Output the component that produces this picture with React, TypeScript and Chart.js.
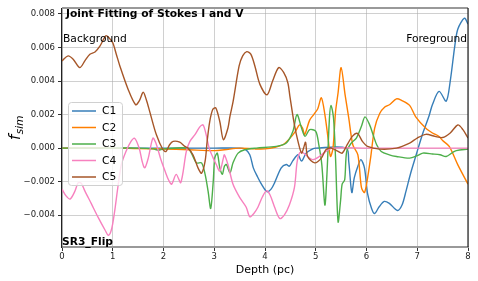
import React, { useEffect, useRef } from "react";
import { Chart, registerables } from "chart.js";
Chart.register(...registerables);

const seriesNames = ["C1", "C2", "C3", "C4", "C5"];
const seriesColors = ["#377eb8", "#ff7f00", "#4daf4a", "#f781bf", "#a65628"];
const xTicks = [0, 1, 2, 3, 4, 5, 6, 7, 8];
const yTicks = [-0.004, -0.002, 0, 0.002, 0.004, 0.006, 0.008];
const titleText = "Joint Fitting of Stokes I and V";
const leftNote = "Background";
const rightNote = "Foreground";
const cornerNote = "SR3_Flip";
const xLabel = "Depth (pc)";

// values below are in units of 1e-3
const c1Depth = [0, 1, 2, 3, 3.5, 3.6, 3.7, 3.77, 3.85, 3.93, 4.04, 4.12, 4.19, 4.32, 4.42, 4.48, 4.55, 4.65, 4.72, 4.81, 4.94, 5.0, 5.6, 5.65, 5.71, 5.76, 5.83, 5.89, 5.96, 6.02, 6.1, 6.16, 6.25, 6.35, 6.45, 6.61, 6.7, 6.78, 6.87, 6.97, 7.1, 7.23, 7.3, 7.43, 7.57, 7.65, 7.74, 7.8, 7.93, 8.0];
const c1Value = [0, 0, 0, 0, 0, -0.05, -0.4, -1.18, -1.7, -2.15, -2.6, -2.45, -2.06, -1.18, -0.98, -1.08, -0.75, -0.4, -0.78, -0.3, -0.04, 0, 0, -0.8, -2.65, -1.76, -1.08, -0.69, -1.18, -2.7, -3.6, -3.9, -3.5, -3.18, -3.3, -3.72, -3.4, -2.55, -1.5, -0.49, 0.8, 1.9, 2.6, 3.38, 2.8, 4.0, 6.1, 7.1, 7.75, 7.4];

const c2Depth = [0, 1, 1.5, 2, 2.5, 3.0, 3.2, 3.5, 3.8, 4.0, 4.2, 4.35, 4.48, 4.6, 4.68, 4.74, 4.78, 4.88, 4.96, 5.04, 5.11, 5.18, 5.25, 5.29, 5.34, 5.39, 5.44, 5.5, 5.58, 5.65, 5.73, 5.83, 5.9, 5.96, 6.02, 6.08, 6.16, 6.26, 6.36, 6.46, 6.59, 6.69, 6.85, 6.97, 7.17, 7.3, 7.43, 7.5, 7.63, 7.8, 8.0];
const c2Value = [0, 0, -0.03, -0.05, -0.1, -0.15, -0.1, 0, -0.05, -0.05, 0.05, 0.2, 0.55, 1.0, 1.38, 1.2, 0.8, 1.67, 2.0, 2.35, 3.0, 2.0, 0.4, -0.5, 0, 2.16, 3.3, 4.8, 3.14, 1.8, 0.2, -0.4, -2.35, -2.65, -1.8, -0.6, 1.18, 2.06, 2.45, 2.6, 2.94, 2.85, 2.55, 1.86, 1.18, 0.9, 0.69, 0.45, 0.1, -1.0, -2.15];

const c3Depth = [0, 1, 1.5, 1.8, 1.9, 2.0, 2.48, 2.55, 2.65, 2.75, 2.82, 2.88, 2.93, 2.98, 3.01, 3.06, 3.11, 3.16, 3.2, 3.24, 3.31, 3.37, 3.47, 3.6, 3.83, 4.22, 4.42, 4.55, 4.63, 4.72, 4.79, 4.88, 5.0, 5.06, 5.12, 5.18, 5.22, 5.27, 5.3, 5.35, 5.39, 5.44, 5.49, 5.52, 5.57, 5.61, 5.7, 5.8, 5.9, 5.97, 6.06, 6.13, 6.2, 6.29, 6.45, 6.59, 6.85, 7.0, 7.11, 7.3, 7.45, 7.57, 7.7, 7.77, 8.0];
const c3Value = [0, 0, 0, -0.05, -0.12, -0.05, 0, -0.3, -0.88, -0.88, -1.57, -2.6, -3.6, -2.0, -0.6, -0.3, -1.18, -1.57, -1.08, -0.98, -1.47, -0.88, -0.3, -0.1, 0, 0.1, 0.3, 1.0, 2.0, 1.2, 0.7, 1.1, 1.0, 0.2, -1.0, -3.4, -1.6, 1.8, 2.55, 1.8, -0.6, -4.4, -3.1, -2.15, -1.9, -0.2, 0.3, 0.6, 1.3, 1.86, 1.4, 0.8, 0.2, -0.2, -0.4, -0.5, -0.6, -0.45, -0.3, -0.35, -0.4, -0.5, -0.25, -0.15, -0.06];

const c4Depth = [0, 0.08, 0.16, 0.25, 0.32, 0.38, 0.45, 0.58, 0.71, 0.85, 0.91, 0.96, 1.0, 1.05, 1.1, 1.17, 1.26, 1.36, 1.43, 1.52, 1.58, 1.63, 1.7, 1.79, 1.85, 1.95, 2.03, 2.1, 2.16, 2.25, 2.34, 2.45, 2.52, 2.62, 2.72, 2.78, 2.84, 2.9, 2.98, 3.04, 3.11, 3.18, 3.2, 3.27, 3.37, 3.5, 3.63, 3.7, 3.78, 3.86, 3.95, 4.03, 4.1, 4.19, 4.29, 4.38, 4.48, 4.58, 4.63, 4.68, 4.74, 4.84, 4.94, 5.07, 5.2, 5.33, 6, 8];
const c4Value = [-2.45, -2.85, -3.04, -2.6, -2.06, -2.1, -2.55, -3.33, -4.12, -4.9, -5.2, -5.0, -4.5, -3.5, -2.35, -0.98, -0.2, 0.4, 0.59, 0, -0.8, -1.18, -0.6, 0.59, 0.3, -0.7, -1.37, -1.9, -2.15, -1.57, -2.06, -0.2, 0.4, 0.8, 1.28, 1.38, 0.8, 0, -0.6, -0.98, -1.37, -0.6, -0.4, -0.98, -2.16, -2.94, -3.53, -4.1, -3.9, -3.53, -2.9, -2.55, -2.8, -3.53, -4.2, -4.0, -3.4, -2.35, -0.88, -0.3, -0.25, -0.5, -0.69, -0.5, -0.2, 0, 0, 0];

const c5Depth = [0, 0.12, 0.22, 0.35, 0.45, 0.55, 0.65, 0.75, 0.865, 0.92, 1.0, 1.07, 1.14, 1.3, 1.45, 1.52, 1.6, 1.66, 1.73, 1.86, 1.99, 2.05, 2.12, 2.19, 2.32, 2.42, 2.48, 2.58, 2.68, 2.75, 2.82, 2.86, 2.91, 2.97, 3.03, 3.11, 3.18, 3.27, 3.31, 3.37, 3.49, 3.56, 3.64, 3.72, 3.8, 3.9, 4.04, 4.15, 4.27, 4.37, 4.45, 4.49, 4.58, 4.65, 4.72, 4.76, 4.8, 4.84, 4.98, 5.11, 5.2, 5.3, 5.44, 5.52, 5.62, 5.72, 5.82, 5.92, 6.02, 6.26, 6.59, 6.85, 7.0, 7.17, 7.35, 7.5, 7.65, 7.8, 7.9, 8.0];
const c5Value = [5.2, 5.5, 5.3, 4.8, 5.2, 5.6, 5.73, 6.1, 6.7, 6.6, 6.28, 5.6, 4.9, 3.53, 2.59, 2.8, 3.33, 2.9, 2.16, 0.79, -0.1, -0.2, 0.2, 0.4, 0.35, 0.1, 0, -0.4, -1.18, -1.5, -0.78, 0.4, 1.57, 2.3, 2.4, 1.57, 0.5, 1.2, 1.9, 2.75, 4.9, 5.5, 5.75, 5.6, 4.9, 3.8, 3.18, 4.0, 4.8, 4.5, 3.9, 3.1, 1.38, 0.4, -0.3, 0, 0.35, -0.5, -0.88, -0.6, -0.1, 0, -0.2, -0.3, 0.2, 0.7, 0.88, 0.4, 0.1, -0.06, 0, 0.3, 0.6, 0.82, 0.7, 0.63, 0.9, 1.38, 1.1, 0.6];

const seriesDepths = [c1Depth, c2Depth, c3Depth, c4Depth, c5Depth];
const seriesValues = [c1Value, c2Value, c3Value, c4Value, c5Value];

const FONT = '"DejaVu Sans", sans-serif';

const annotPlugin = {
  id: "annot",
  afterDraw(chart: any) {
    const { ctx, chartArea: a } = chart;
    ctx.save();
    // top & right frame
    ctx.strokeStyle = "#999";
    ctx.lineWidth = 2;
    ctx.beginPath();
    ctx.moveTo(a.left, a.top);
    ctx.lineTo(a.right, a.top);
    ctx.stroke();
    ctx.strokeStyle = "#222";
    ctx.lineWidth = 1.2;
    ctx.beginPath();
    ctx.moveTo(a.right, a.top);
    ctx.lineTo(a.right, a.bottom);
    ctx.stroke();

    ctx.fillStyle = "#000";
    ctx.textBaseline = "alphabetic";
    ctx.textAlign = "left";
    ctx.font = "bold 10.7px " + FONT;
    ctx.fillText(titleText, a.left + 4, a.top + 9);
    ctx.fillText(cornerNote, a.left, a.bottom - 2);
    ctx.font = "10.7px " + FONT;
    ctx.fillText(leftNote, a.left + 1, 42);
    ctx.textAlign = "right";
    ctx.fillText(rightNote, a.right - 1, 42);

    // x label
    ctx.textAlign = "center";
    ctx.font = "11px " + FONT;
    ctx.fillText(xLabel, (a.left + a.right) / 2, 273);

    // y label f_sim
    ctx.save();
    ctx.translate(20, 140);
    ctx.rotate(-Math.PI / 2);
    ctx.textAlign = "left";
    ctx.font = "italic 15px " + FONT;
    ctx.fillText("f", 0, 0);
    const fw = ctx.measureText("f").width;
    ctx.font = "italic 10.5px " + FONT;
    ctx.fillText("sim", fw + 0.5, 3);
    ctx.restore();

    // legend
    const lx = 68, ly = 102, lw = 54, lh = 83;
    ctx.fillStyle = "rgba(255,255,255,0.8)";
    ctx.strokeStyle = "#d0d0d0";
    ctx.lineWidth = 1;
    ctx.beginPath();
    (ctx as any).roundRect(lx + 0.5, ly + 0.5, lw, lh, 3);
    ctx.fill();
    ctx.stroke();
    ctx.font = "10.7px " + FONT;
    ctx.textAlign = "left";
    ctx.textBaseline = "middle";
    seriesNames.forEach((name, i) => {
      const yy = 111 + i * 16.5;
      ctx.strokeStyle = seriesColors[i];
      ctx.lineWidth = 1.5;
      ctx.beginPath();
      ctx.moveTo(72, yy);
      ctx.lineTo(96, yy);
      ctx.stroke();
      ctx.fillStyle = "#000";
      ctx.fillText(name, 102, yy + 0.5);
    });
    ctx.restore();
  },
};

export default function App() {
  const ref = useRef<HTMLCanvasElement | null>(null);
  useEffect(() => {
    if (!ref.current) return;
    const datasets = seriesNames.map((name, i) => ({
      label: name,
      data: seriesDepths[i].map((d, j) => ({ x: d, y: seriesValues[i][j] * 1e-3 })),
      borderColor: seriesColors[i],
      backgroundColor: seriesColors[i],
      borderWidth: 1.4,
      pointRadius: 0,
      tension: 0.3,
      fill: false,
      order: seriesNames.length - i,
    }));
    const chart = new Chart(ref.current, {
      type: "line",
      data: { datasets },
      plugins: [annotPlugin],
      options: {
        animation: false,
        responsive: false,
        devicePixelRatio: 1,
        layout: { padding: { top: 5, right: 10, bottom: 0, left: 0 } },
        plugins: { legend: { display: false }, tooltip: { enabled: false } },
        scales: {
          x: {
            type: "linear",
            min: 0,
            max: 8,
            afterFit: (s: any) => { s.height = 34; },
            afterBuildTicks: (s: any) => { s.ticks = xTicks.map((v) => ({ value: v })); },
            ticks: { color: "#222", font: { family: FONT, size: 8.5 }, padding: 1, maxRotation: 0, callback: (v: any) => String(v) },
            grid: { color: "rgba(170,170,170,0.55)", lineWidth: 1, drawTicks: true, tickLength: 4, tickColor: "#333" },
            border: { display: true, color: "#999", width: 2 },
          },
          y: {
            type: "linear",
            min: -0.0059,
            max: 0.00835,
            afterFit: (s: any) => { s.width = 62; },
            afterBuildTicks: (s: any) => { s.ticks = yTicks.map((v) => ({ value: v })); },
            ticks: {
              color: "#222",
              font: { family: FONT, size: 8.5 },
              padding: 3,
              callback: (v: any) => (v < -1e-9 ? "\u2212" : "") + Math.abs(Number(v)).toFixed(3),
            },
            grid: { color: "rgba(170,170,170,0.55)", lineWidth: 1, drawTicks: true, tickLength: 4, tickColor: "#333" },
            border: { display: true, color: "#222", width: 1.2 },
          },
        },
      },
    });
    return () => chart.destroy();
  }, []);
  return (
    <div style={{ position: "fixed", left: 0, top: 0, width: 478, height: 281, background: "#fff" }}>
      <canvas ref={ref} width={478} height={281} style={{ width: 478, height: 281, display: "block" }} />
    </div>
  );
}
